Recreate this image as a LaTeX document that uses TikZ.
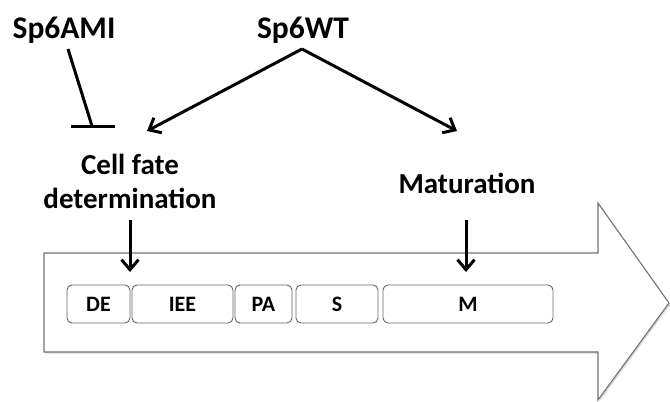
\documentclass[tikz,border=0pt]{standalone}
\usepackage{fontspec}
\setmainfont{Carlito}
\usetikzlibrary{arrows.meta,shadows}
\begin{document}
\begin{tikzpicture}[x=1pt,y=-1pt,
  lbl/.style={inner sep=0pt, align=center},
  stage/.style={draw=black!60, rounded corners=5pt, line width=0.9pt, minimum height=38pt, font=\bfseries\fontsize{22}{24}\selectfont, inner sep=0pt},
  conn/.style={line width=3pt, -{Straight Barb[length=10pt,width=17pt,line width=3pt]}},
  inh/.style={line width=3pt}]
\useasboundingbox (0,0) rectangle (670,402);
% big arrow
\draw[black!55, line width=1.1pt, fill=white, drop shadow={shadow xshift=1.5pt, shadow yshift=-1.5pt, opacity=0.3}]
  (44,253) -- (598,253) -- (598,203) -- (669,303) -- (598,400) -- (598,352) -- (44,352) -- cycle;
% stages
\node[stage, minimum width=63pt] (de) at (98.5,304) {DE};
\node[stage, minimum width=101pt] (iee) at (182.5,304) {IEE};
\node[stage, minimum width=57pt] (pa) at (263.5,304) {PA};
\node[stage, minimum width=82pt] (s) at (337,304) {S};
\node[stage, minimum width=170pt] (m) at (468,304) {M};
% labels
\node[lbl, font=\bfseries\fontsize{31.5}{34}\selectfont] (ami) at (64,30) {Sp6AMI};
\node[lbl, font=\bfseries\fontsize{31.5}{34}\selectfont] (wt) at (303,30) {Sp6WT};
\node[lbl, font=\bfseries\fontsize{29}{34}\selectfont] (cf) at (130,181) {Cell fate\\determination};
\node[lbl, font=\bfseries\fontsize{29}{34}\selectfont] (mat) at (467,183) {Maturation};
% connectors
\coordinate (apex) at (302,49);
\coordinate (cfin) at (147,131);
\coordinate (matin) at (457,131);
\coordinate (amis) at (68,49);
\coordinate (amie) at (92,126);
\draw[inh] (amis) -- (amie);
\draw[inh] (71,126) -- (115,126);
\draw[conn] (apex) -- (cfin);
\draw[conn] (apex) -- (matin);
\draw[conn] (130,220) -- (130,272);
\draw[conn] (466,220) -- (466,272);
\end{tikzpicture}
\end{document}
